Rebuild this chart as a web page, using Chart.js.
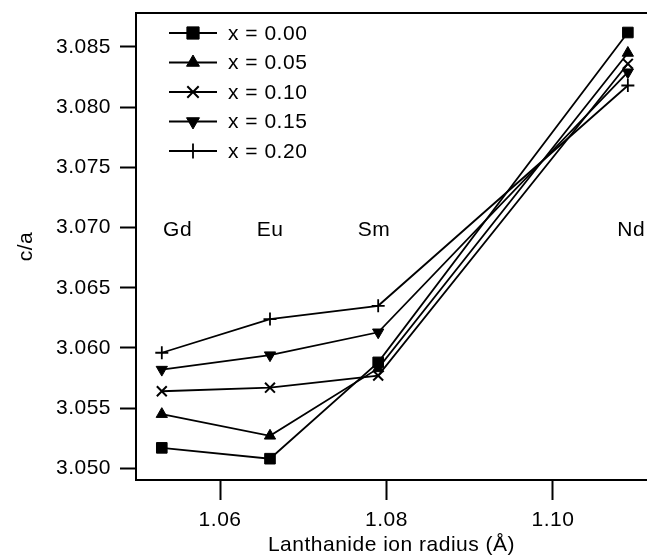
<!DOCTYPE html>
<html>
<head>
<meta charset="utf-8">
<script src="https://cdn.jsdelivr.net/npm/chart.js@4.4.1/dist/chart.umd.min.js"></script>
<style>
html,body{margin:0;padding:0;background:#fff;overflow:hidden;}
canvas{display:block;}
</style>
</head>
<body>
<canvas id="c" width="647" height="558"></canvas>
<script>
// ---- data ----
const categories = ['Gd', 'Eu', 'Sm', 'Nd'];
const radii = [1.053, 1.066, 1.079, 1.109];
const seriesLabels = ['x = 0.00', 'x = 0.05', 'x = 0.10', 'x = 0.15', 'x = 0.20'];
const x000 = [3.0517, 3.0508, 3.0588, 3.0862];
const x005 = [3.0545, 3.0527, 3.0583, 3.0845];
const x010 = [3.0564, 3.0567, 3.0577, 3.0836];
const x015 = [3.0582, 3.0594, 3.0613, 3.0829];
const x020 = [3.0596, 3.0624, 3.0635, 3.0818];
const labelRadii = [1.0549, 1.0660, 1.0785, 1.1094];
const labelValue = 3.0698;
const yTickValues = [3.050, 3.055, 3.060, 3.065, 3.070, 3.075, 3.080, 3.085];
const yTickLabels = ['3.050', '3.055', '3.060', '3.065', '3.070', '3.075', '3.080', '3.085'];
const xTickValues = [1.06, 1.08, 1.10];
const xTickLabels = ['1.06', '1.08', '1.10'];

const FONT = "'Liberation Sans', Arial, Helvetica, sans-serif";
const FSIZE = 21;
const SPACING = '0.5px';
const styles = [
  {pointStyle: 'rect', radius: 7.5, rotation: 0, bw: 1},
  {pointStyle: 'triangle', radius: 6.5, rotation: 0, bw: 1},
  {pointStyle: 'crossRot', radius: 7, rotation: 0, bw: 2},
  {pointStyle: 'triangle', radius: 6.5, rotation: 180, bw: 1},
  {pointStyle: 'cross', radius: 6.5, rotation: 0, bw: 1.8}
];
const seriesData = [x000, x005, x010, x015, x020];

const datasets = seriesData.map((arr, i) => ({
  label: seriesLabels[i],
  data: arr.map((v, j) => ({x: radii[j], y: v})),
  borderColor: '#000',
  backgroundColor: '#000',
  borderWidth: 1.8,
  pointStyle: styles[i].pointStyle,
  pointRadius: styles[i].radius,
  pointRotation: styles[i].rotation,
  pointBorderWidth: styles[i].bw,
  pointBackgroundColor: '#000',
  pointBorderColor: '#000',
  tension: 0,
  fill: false
}));

function setSpacing(chart) {
  try { chart.ctx.letterSpacing = SPACING; } catch (e) {}
}

const spacingPlugin = {
  id: 'spacing',
  afterInit: setSpacing,
  beforeUpdate: setSpacing,
  beforeLayout: setSpacing,
  beforeDraw: setSpacing
};

const decorPlugin = {
  id: 'decor',
  afterDraw(chart) {
    const ctx = chart.ctx;
    const ca = chart.chartArea;
    const xs = chart.scales.x, ys = chart.scales.y;
    ctx.save();
    try { ctx.letterSpacing = SPACING; } catch (e) {}
    // top frame line
    ctx.strokeStyle = '#000';
    ctx.lineWidth = 2;
    ctx.beginPath();
    ctx.moveTo(ca.left - 1, ca.top);
    ctx.lineTo(ca.right, ca.top);
    ctx.stroke();
    // element labels
    ctx.fillStyle = '#000';
    ctx.font = FSIZE + 'px ' + FONT;
    ctx.textAlign = 'center';
    ctx.textBaseline = 'middle';
    categories.forEach((c, i) => {
      ctx.fillText(c, xs.getPixelForValue(labelRadii[i]), ys.getPixelForValue(labelValue));
    });
    // legend
    const x0 = ca.left + 33, x1 = ca.left + 81, xm = ca.left + 57, xt = ca.left + 92;
    const rowTop = ca.top + 20, rowStep = 29.5;
    ctx.textAlign = 'left';
    seriesLabels.forEach((lab, i) => {
      const y = rowTop + i * rowStep;
      ctx.strokeStyle = '#000';
      ctx.lineWidth = 1.8;
      ctx.beginPath();
      ctx.moveTo(x0, y);
      ctx.lineTo(x1, y);
      ctx.stroke();
      ctx.fillStyle = '#000';
      ctx.lineWidth = styles[i].bw;
      const opts = {pointStyle: styles[i].pointStyle, radius: styles[i].radius * 1.15, rotation: styles[i].rotation, borderWidth: styles[i].bw};
      Chart.helpers.drawPoint(ctx, opts, xm, y);
      ctx.fillStyle = '#000';
      ctx.fillText(lab, xt, y + 1);
    });
    ctx.restore();
  }
};

new Chart(document.getElementById('c'), {
  type: 'line',
  data: {datasets},
  plugins: [spacingPlugin, decorPlugin],
  options: {
    responsive: false,
    animation: false,
    devicePixelRatio: 1,
    layout: {autoPadding: false, padding: {top: 13, left: 0, right: 0, bottom: 0}},
    plugins: {legend: {display: false}, tooltip: {enabled: false}},
    elements: {line: {borderCapStyle: 'butt'}},
    scales: {
      x: {
        type: 'linear',
        min: 1.0499,
        max: 1.1113,
        afterBuildTicks(scale) { scale.ticks = xTickValues.map(v => ({value: v})); },
        afterFit(scale) { scale.height = 78; scale.paddingLeft = 0; scale.paddingRight = 0; },
        ticks: {
          callback: (v) => { const k = xTickValues.findIndex(t => Math.abs(t - v) < 1e-9); return k >= 0 ? xTickLabels[k] : ''; },
          color: '#000', font: {family: FONT, size: FSIZE}, padding: 8, maxRotation: 0, autoSkip: false
        },
        grid: {drawOnChartArea: false, drawTicks: true, tickLength: 20, tickWidth: 2, tickColor: '#000'},
        border: {display: true, color: '#000', width: 2},
        title: {display: true, text: 'Lanthanide ion radius (Å)', color: '#000', font: {family: FONT, size: FSIZE}, padding: 0}
      },
      y: {
        type: 'linear',
        min: 3.04903,
        max: 3.08782,
        afterBuildTicks(scale) { scale.ticks = yTickValues.map(v => ({value: v})); },
        afterFit(scale) { scale.width = 136; scale.paddingTop = 0; scale.paddingBottom = 0; },
        ticks: {
          callback: (v) => { const k = yTickValues.findIndex(t => Math.abs(t - v) < 1e-9); return k >= 0 ? yTickLabels[k] : ''; },
          color: '#000', font: {family: FONT, size: FSIZE}, padding: 9, autoSkip: false
        },
        grid: {drawOnChartArea: false, drawTicks: true, tickLength: 16, tickWidth: 2, tickColor: '#000'},
        border: {display: true, color: '#000', width: 2},
        title: {display: true, text: 'c/a', color: '#000', font: {family: FONT, size: FSIZE}, padding: {top: 14, bottom: 0}}
      }
    }
  }
});
</script>
</body>
</html>
